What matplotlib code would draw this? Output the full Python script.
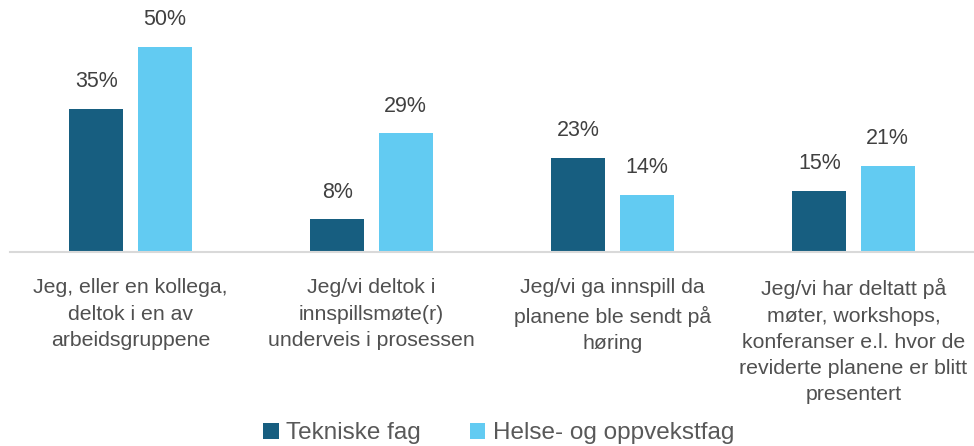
import matplotlib.pyplot as plt
import numpy as np

categories = [
    "Jeg, eller en kollega,\ndeltok i en av\narbeidsgruppene",
    "Jeg/vi deltok i\ninnspillsmøte(r)\nunderveis i prosessen",
    "Jeg/vi ga innspill da\nplanene ble sendt på\nhøring",
    "Jeg/vi har deltatt på\nmøter, workshops,\nkonferanser e.l. hvor de\nreviderte planene er blitt\npresentert",
]
tekniske = [35, 8, 23, 15]
helse = [50, 29, 14, 21]
series_names = ["Tekniske fag", "Helse- og oppvekstfag"]

dark = "#175E80"
light = "#62CBF2"
txt = "#404040"

plt.rcParams['font.family'] = ['Liberation Sans', 'DejaVu Sans']

fig = plt.figure(figsize=(9.74, 4.46), dpi=100)
ax = fig.add_axes([0.0103, 1 - 252 / 446, 0.9897, 252 / 446])

x = np.arange(len(categories))
w = 0.224
off = 0.142
b1 = ax.bar(x - off, tekniske, w, color=dark, label=series_names[0])
b2 = ax.bar(x + off, helse, w, color=light, label=series_names[1])

for bars, vals in ((b1, tekniske), (b2, helse)):
    for b, v in zip(bars, vals):
        ax.annotate(f"{v}%", (b.get_x() + b.get_width() / 2, v),
                    xytext=(0, 12), textcoords="offset points",
                    ha="center", va="bottom", fontsize=15.5, color=txt)

ax.set_xlim(-0.5, len(categories) - 0.5)
ax.set_ylim(0, 61.5)
ax.set_yticks([])
ax.set_xticks(x)
ax.set_xticklabels(categories, fontsize=15.3, color="#505050", linespacing=1.48)
ax.tick_params(axis="x", length=0, pad=19)
for s in ["top", "right", "left"]:
    ax.spines[s].set_visible(False)
ax.spines["bottom"].set_color("#D9D9D9")
ax.spines["bottom"].set_linewidth(1.5)

fig.legend(loc="lower center", bbox_to_anchor=(0.512, -0.045), ncol=2,
           frameon=False, fontsize=17.5, handlelength=0.65, handleheight=0.65,
           handletextpad=0.3, columnspacing=2.0, labelcolor="#595959")

fig.savefig("out.png", dpi=100)
